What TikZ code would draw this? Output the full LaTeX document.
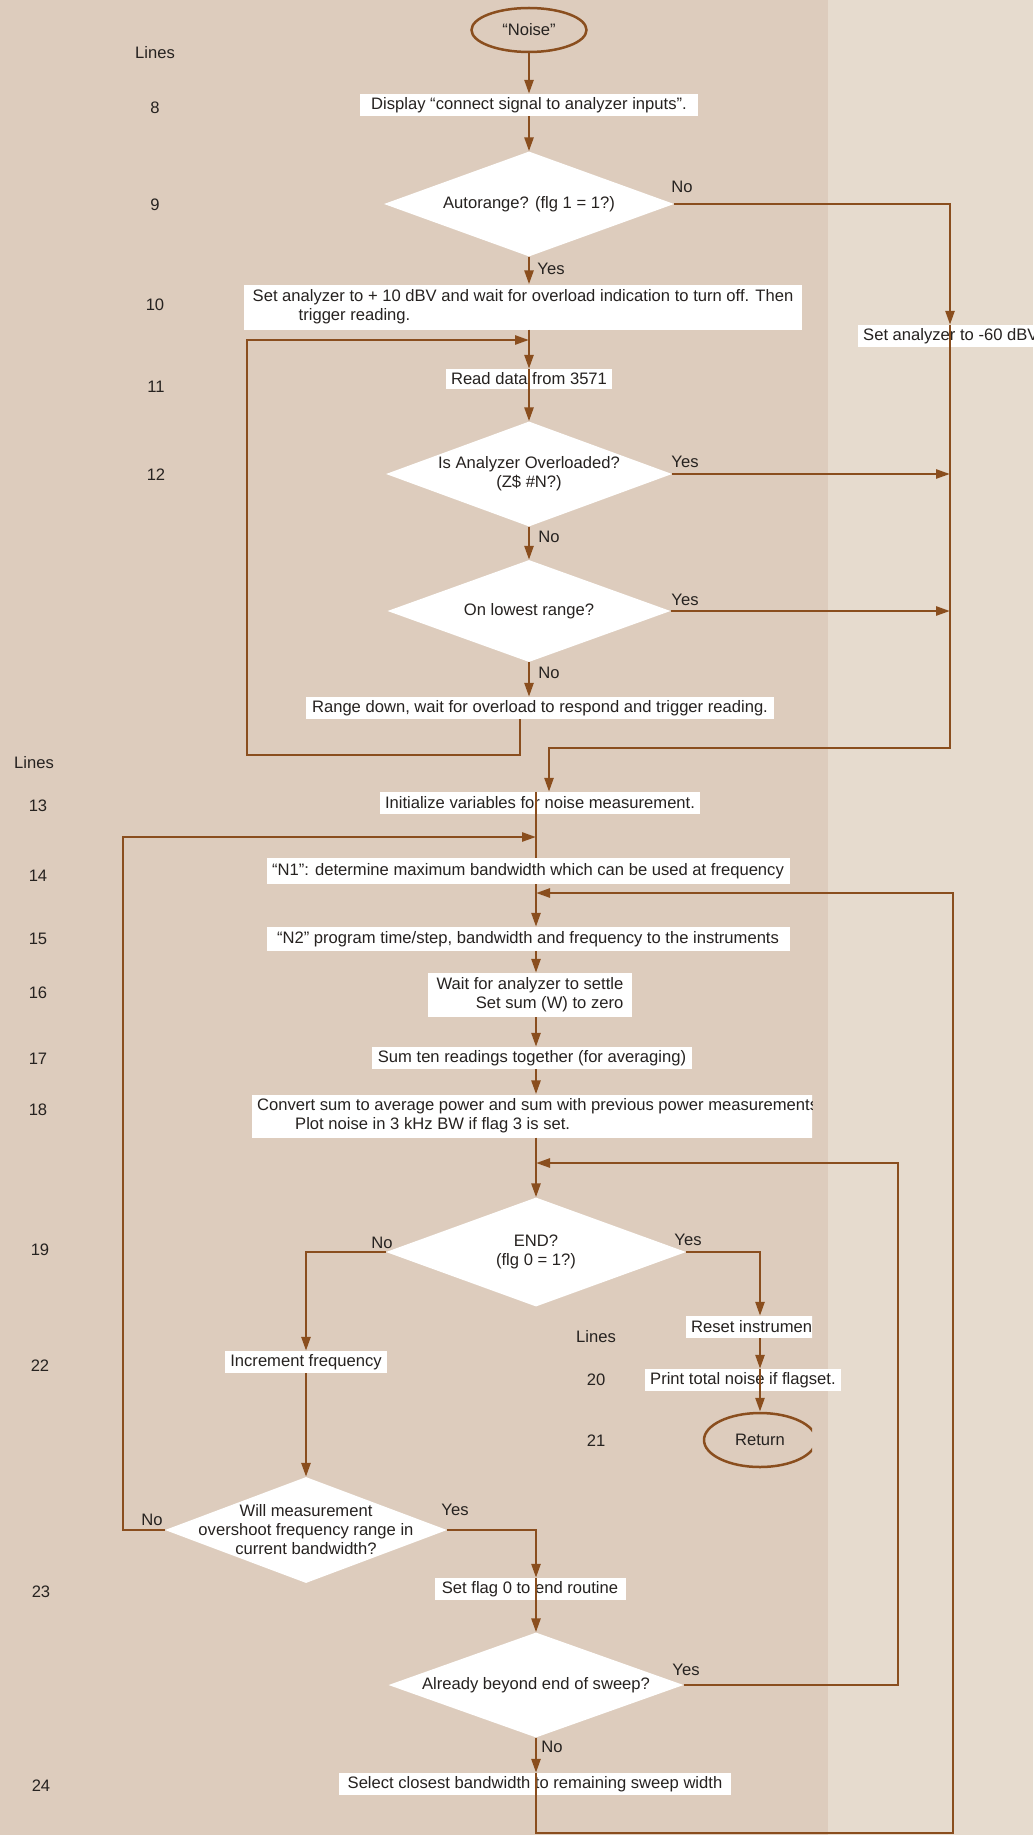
\documentclass[tikz,border=0pt]{standalone}
\usepackage{fontspec}
\setmainfont{Liberation Sans}
\usetikzlibrary{shapes.geometric,arrows.meta}
\definecolor{bgc}{RGB}{221,204,189}
\definecolor{bgr}{RGB}{230,219,206}
\definecolor{lnc}{RGB}{138,78,30}
\definecolor{txc}{RGB}{38,34,32}
\begin{document}
\begin{tikzpicture}[x=1pt,y=-1pt,
  every node/.style={font=\fontsize{16.6}{19}\selectfont, text=txc},
  box/.style={fill=white, inner xsep=5pt, inner ysep=3pt, minimum height=22pt},
  dia/.style={diamond, fill=white, inner sep=0pt},
  term/.style={ellipse, draw=lnc, line width=2.5pt, inner sep=0pt},
  flow/.style={draw=lnc, line width=2.6pt, -{Triangle[length=14pt,width=9pt]}},
  link/.style={draw=lnc, line width=2.6pt},
  lab/.style={inner sep=1pt},
  num/.style={inner sep=0pt}]
\useasboundingbox (0,0) rectangle (1033,1835);
\clip (0,0) rectangle (1033,1835);
\fill[bgc] (0,0) rectangle (1033,1835);
\fill[bgr] (828,0) rectangle (1033,1835);

% helper x positions
\coordinate (xU) at (529,0);
\coordinate (xR) at (950,0);
\coordinate (xS) at (536,0);
\coordinate (xI) at (549,0);
\coordinate (xRs) at (760,0);
\coordinate (j1) at (529,340);
\coordinate (j2) at (536,837);
\coordinate (j3) at (536,893);
\coordinate (j4) at (536,1163);

% line numbers
\node[num] (L0) at (155,53) {Lines};
\node[num] (L8) at (155,108) {8};
\node[num] (L9) at (155,205) {9};
\node[num] (L10) at (155,305) {10};
\node[num] (L11) at (156,387) {11};
\node[num] (L12) at (156,475) {12};
\node[num] (M0) at (34,763) {Lines};
\node[num] (L13) at (38,806) {13};
\node[num] (L14) at (38,876) {14};
\node[num] (L15) at (38,939) {15};
\node[num] (L16) at (38,993) {16};
\node[num] (L17) at (38,1059) {17};
\node[num] (L18) at (38,1110) {18};
\node[num] (L19) at (40,1250) {19};
\node[num] (L22) at (40,1366) {22};
\node[num] (L23) at (41,1592) {23};
\node[num] (L24) at (41,1786) {24};
\node[num] (N0) at (596,1337) {Lines};
\node[num] (L20) at (596,1380) {20};
\node[num] (L21) at (596,1441) {21};

% upper part
\node[term, minimum width=115pt, minimum height=44pt] (noise) at (529,30) {``Noise''};
\node[box, minimum width=338pt] (disp) at (529,105) {Display ``connect signal to analyzer inputs''.};
\node[dia, minimum width=290pt, minimum height=105pt, label={center:{Autorange? (flg 1 = 1?)}}] (auto) at (529,204) {};
\node[box, align=left, minimum width=558pt, minimum height=45pt] (set10) at (523,307) {Set analyzer to + 10 dBV and wait for overload indication to turn off. Then\\\hspace*{46pt}trigger reading.};
\node[box, anchor=west] (set60) at (858,336) {Set analyzer to -60 dBV};
\node[box, minimum width=158pt, minimum height=20pt] (read) at (529,379) {Read data from 3571};
\node[dia, minimum width=286pt, minimum height=105pt, label={[align=center]center:{Is Analyzer Overloaded?\\(Z\$ \#N?)}}] (over) at (529,474) {};
\node[dia, minimum width=283pt, minimum height=102pt, label={center:{On lowest range?}}] (low) at (529,611) {};
\node[box, minimum width=468pt] (range) at (540,708) {Range down, wait for overload to respond and trigger reading.};

% lower part
\node[box, minimum width=316pt] (init) at (540,803) {Initialize variables for noise measurement.};
\node[box, minimum width=523pt, minimum height=26pt] (n1) at (528,871) {``N1'': determine maximum bandwidth which can be used at frequency};
\node[box, minimum width=523pt, minimum height=24pt] (n2) at (528,939) {``N2'' program time/step, bandwidth and frequency to the instruments};
\node[box, align=right, minimum width=204pt, minimum height=44pt] (wait) at (530,995) {Wait for analyzer to settle\\Set sum (W) to zero};
\node[box, minimum width=320pt] (sum) at (532,1058) {Sum ten readings together (for averaging)};
\begin{scope}
\clip (0,0) rectangle (812,1835);
\node[box, align=left, anchor=west, minimum height=43pt] (conv) at (252,1116) {Convert sum to average power and sum with previous power measurements\\\hspace*{38pt}Plot noise in 3 kHz BW if flag 3 is set.};
\node[box, anchor=west] (reset) at (686,1327) {Reset instrumen};
\node[term, minimum width=112pt, minimum height=54pt] (ret) at (760,1440) {Return};
\end{scope}
\node[dia, minimum width=300pt, minimum height=109pt, label={[align=center]center:{END?\\(flg 0 = 1?)}}] (endd) at (536,1252) {};
\node[box, minimum width=158pt] (incr) at (306,1362) {Increment frequency};
\node[box, anchor=west] (print) at (645,1380) {Print total noise if flagset.};
\node[dia, minimum width=282pt, minimum height=106pt, label={[align=center]center:{Will measurement\\overshoot frequency range in\\current bandwidth?}}] (will) at (306,1530) {};
\node[box, minimum width=191pt] (setf) at (530,1589) {Set flag 0 to end routine};
\node[dia, minimum width=295pt, minimum height=105pt, label={center:{Already beyond end of sweep?}}] (alr) at (536,1685) {};
\node[box, minimum width=392pt] (sel) at (535,1784) {Select closest bandwidth to remaining sweep width};

% branch labels
\node[lab] (tA) at (682,187) {No};
\node[lab] (tB) at (551,269) {Yes};
\node[lab] (tC) at (685,462) {Yes};
\node[lab] (tD) at (549,537) {No};
\node[lab] (tE) at (685,600) {Yes};
\node[lab] (tF) at (549,673) {No};
\node[lab] (tG) at (382,1243) {No};
\node[lab] (tH) at (688,1240) {Yes};
\node[lab] (tI) at (152,1520) {No};
\node[lab] (tJ) at (455,1510) {Yes};
\node[lab] (tK) at (686,1670) {Yes};
\node[lab] (tL) at (552,1747) {No};

% connectors, upper part
\draw[flow] (noise.south) -- (disp.north);
\draw[flow] (disp.south) -- (auto.north);
\draw[flow] (auto.south) -- (set10.north -| xU);
\draw[flow] (auto.east) -- (auto.east -| xR) -- (set60.north -| xR);
\draw[flow] (set60.north -| xR) |- (549,748) -- (init.north -| xI);
\draw[flow] (set10.south -| xU) -- (read.north);
\draw[flow] ([xshift=-20pt]range.south) |- (247,755) |- (j1);
\draw[flow] (read.north) -- (over.north);
\draw[flow] (over.east) -- (over.east -| xR);
\draw[flow] (over.south) -- (low.north);
\draw[flow] (low.east) -- (low.east -| xR);
\draw[flow] (low.south) -- (low.south |- range.north);

% connectors, lower part
\draw[link] (init.north -| xS) -- (n1.north -| xS);
\draw[flow] (will.west) -| (123,837) -- (j2);
\draw[flow] (n1.south -| xS) -- (n2.north -| xS);
\draw[flow] (sel.north -| xS) -- (536,1833) -| (953,893) -- (j3);
\draw[flow] (n2.south -| xS) -- (wait.north -| xS);
\draw[flow] (wait.south -| xS) -- (sum.north -| xS);
\draw[flow] (sum.south -| xS) -- (conv.north -| xS);
\draw[flow] (conv.south -| xS) -- (endd.north);
\draw[flow] (alr.east) -| (898,1163) -- (j4);
\draw[flow] (endd.west) -| (incr.north);
\draw[flow] (endd.east) -| (reset.north -| xRs);
\draw[flow] (reset.south -| xRs) -- (print.north -| xRs);
\draw[flow] (print.north -| xRs) -- (ret.north);
\draw[flow] (incr.south) -- (will.north);
\draw[flow] (will.east) -| (setf.north -| xS);
\draw[flow] (setf.north -| xS) -- (alr.north);
\draw[flow] (alr.south) -- (sel.north -| xS);
\end{tikzpicture}
\end{document}
